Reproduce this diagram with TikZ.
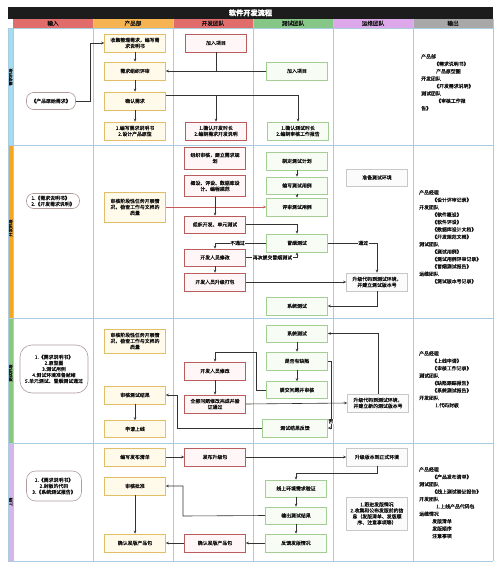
\documentclass[tikz,border=0pt]{standalone}
\usepackage{fontspec}
\setmainfont{Noto Sans CJK SC}[FakeBold=0.35]
\usetikzlibrary{arrows.meta,calc}
\definecolor{titleC}{HTML}{1C1C1C}
\definecolor{hRed}{HTML}{E06C6C}
\definecolor{hOrange}{HTML}{F6B352}
\definecolor{hGreen}{HTML}{86C787}
\definecolor{hViolet}{HTML}{DDA8EA}
\definecolor{hGray}{HTML}{A8A8A8}
\definecolor{sBlue}{HTML}{A6DCEF}
\definecolor{sOrange}{HTML}{F5A623}
\definecolor{sGreen}{HTML}{8BC97A}
\definecolor{sViolet}{HTML}{D7B5E8}
\definecolor{gridC}{HTML}{A9CCE3}
\definecolor{prodD}{HTML}{E3BE6A}
\definecolor{prodF}{HTML}{FFFAEA}
\definecolor{devD}{HTML}{B85C5C}
\definecolor{devF}{HTML}{FFF7F7}
\definecolor{testD}{HTML}{A3CF95}
\definecolor{testF}{HTML}{F7FCF5}
\definecolor{opsD}{HTML}{C8C8C8}
\definecolor{opsF}{HTML}{FBFBFB}
\definecolor{inpD}{HTML}{B09A9A}
\definecolor{lineC}{HTML}{333333}
\definecolor{redLine}{HTML}{C55A5A}
\definecolor{txtC}{HTML}{111111}
\newcommand\boxfont{\fontsize{4.9}{6}\selectfont}
\newcommand\outfont{\fontsize{4.9}{7.4}\selectfont}
\newcommand\headfont{\fontsize{5.6}{6}\selectfont}
\newcommand\titlefont{\fontsize{7.2}{8}\selectfont\bfseries}
\newcommand\stripfont{\fontsize{4.3}{5}\selectfont}
\newcommand\ind{\hspace*{13pt}}
\begin{document}
\begin{tikzpicture}[x=1pt,y=-1pt,
  bx/.style={draw, minimum width=61pt, minimum height=18pt, inner sep=0.5pt, align=center, font=\boxfont, text=txtC, line width=0.6pt},
  prod/.style={bx, draw=prodD, fill=prodF},
  dev/.style={bx, draw=devD, fill=devF},
  tst/.style={bx, draw=testD, fill=testF},
  ops/.style={bx, draw=opsD, fill=opsF},
  inp/.style={draw=inpD, fill=white, rounded corners=7pt, align=center, font=\boxfont, text=txtC, inner sep=1pt, line width=0.6pt},
  arr/.style={draw=lineC, line width=0.6pt, -{Stealth[length=3pt,width=2.6pt]}},
  ln/.style={draw=lineC, line width=0.6pt},
  lbl/.style={font=\boxfont, fill=white, inner sep=0.5pt, text=txtC},
  outtxt/.style={font=\outfont, align=left, text=txtC, inner sep=0pt, anchor=north west},
  hd/.style={font=\headfont, text=txtC},
  strip/.style={rotate=90, font=\stripfont, text=txtC}
]
\useasboundingbox (0,0) rectangle (500,563);
% title and header
\fill[titleC] (8,7) rectangle (493,18.5);
\node[font=\titlefont, text=white] (title) at (250.5,12.8) {软件开发流程};
\fill[hRed] (13,18.5) rectangle (93,28);
\fill[hOrange] (93,18.5) rectangle (173,28);
\fill[hRed] (173,18.5) rectangle (253,28);
\fill[hGreen] (253,18.5) rectangle (333,28);
\fill[hViolet] (333,18.5) rectangle (413,28);
\fill[hGray] (413,18.5) rectangle (493,28);
\node[hd] (h1) at (53,23.3) {输入};
\node[hd] (h2) at (133,23.3) {产品部};
\node[hd] (h3) at (213,23.3) {开发团队};
\node[hd] (h4) at (293,23.3) {测试团队};
\node[hd] (h5) at (373,23.3) {运维团队};
\node[hd] (h6) at (453,23.3) {输出};
% strips
\fill[sBlue] (8,28) rectangle (13,145);
\fill[sOrange] (8,145) rectangle (13,318);
\fill[sGreen] (8,318) rectangle (13,443);
\fill[sViolet] (8,443) rectangle (13,561);
\node[strip] (s1) at (10.5,77) {需求阶段};
\node[strip] (s2) at (10.5,228) {开发阶段};
\node[strip] (s3) at (10.5,373) {测试阶段};
\node[strip] (s4) at (10.5,502) {上线};
% grid
\foreach \x in {93,173,253,333,413}{\draw[gridC, line width=0.6pt] (\x,18.5) -- (\x,561);}
\draw[gridC, line width=0.6pt] (13,28) -- (13,561);
\draw[gridC, line width=0.6pt] (493,18.5) -- (493,561);
\foreach \y in {28,145,318,443,561}{\draw[gridC, line width=0.6pt] (8,\y) -- (493,\y);}
\draw[gridC, line width=0.6pt] (8,28) -- (8,561);

% ---------- phase 1
\node[inp, minimum width=49pt, minimum height=17pt] (in1) at (51,101) {《产品原始需求》};
\node[prod] (p1a) at (135,43) {收集整理需求，编写需\\求说明书};
\node[prod] (p1b) at (135,71) {需求组织评审};
\node[prod] (p1c) at (135,101) {确认需求};
\node[prod] (p1d) at (135,131) {1.编写需求说明书\\2.设计产品原型};
\node[dev] (d1a) at (216,43) {加入项目};
\node[dev] (d1b) at (216,131) {1.确认开发时长\\2.编制需求开发说明};
\node[tst] (t1a) at (297,71) {加入项目};
\node[tst] (t1b) at (298,131) {1.确认测试时长\\2.编制审核工作报告};
\node[outtxt] (o1) at (421,54) {产品部\\\ind《需求说明书》\\\ind\hspace*{2pt}产品原型图\\开发团队\\\ind《开发需求说明》\\测试团队\\\ind\hspace*{2pt}《审核工作报\\告》};
\coordinate (j1) at (298,95);
\draw[arr] (in1.east) -- ++(14,0) |- (p1a.west);
\draw[arr] (p1a) -- (p1b);
\draw[arr] (t1a.west) -- (p1b.east);
\draw[ln] (d1a.south) -- (d1a.south |- p1b.east);
\draw[arr] (p1b) -- (p1c);
\draw[arr] (p1c.east |- j1) -- (j1) -- (t1b.north);
\draw[arr] (d1b.north |- j1) -- (d1b.north);
\draw[arr] (p1c) -- (p1d);

% ---------- phase 2
\node[inp, minimum width=53pt, minimum height=15pt, align=left] (in2) at (53,201) {1.《需求说明书》\\2.《开发需求说明》};
\node[prod, minimum height=30pt] (p2a) at (135,207) {审核阶段性任务开展情\\况，检查工作与文档的\\质量};
\node[dev, minimum height=22pt] (d2a) at (215,158) {组织审核，建立需求规\\划};
\node[dev, minimum height=21pt] (d2b) at (215,186) {概设、评设、数据库设\\计、编程规范};
\node[dev, minimum height=17pt] (d2c) at (215,224.5) {组织开发、单元测试};
\node[dev, minimum height=17pt] (d2d) at (215,257.5) {开发人员修改};
\node[dev] (d2e) at (215,282) {开发人员升级打包};
\node[tst] (t2a) at (297,161) {制定测试计划};
\node[tst, minimum height=17pt] (t2b) at (297,185.5) {编写测试用例};
\node[tst] (t2c) at (297,207) {评审测试用例};
\node[tst] (t2d) at (297,243) {冒烟测试};
\node[tst] (t2e) at (297,306) {系统测试};
\node[ops, minimum height=17pt] (o2a) at (377,177.5) {准备测试环境};
\node[ops] (o2b) at (377,282) {升级代码到测试环境，\\并建立测试版本号};
\node[outtxt] (o2) at (419,190) {产品经理\\\ind《设计评审记录》\\开发团队\\\ind《软件概设》\\\ind《软件评设》\\\ind《数据库设计文档》\\\ind《开发规范文档》\\测试团队\\\ind《测试用例》\\\ind《测试用例评审记录》\\\ind《冒烟测试报告》\\运维团队\\\ind《测试版本号记录》};
\draw[arr, draw=redLine] (p2a.east) -- (t2c.west);
\draw[arr] (d2b) -- (d2c);
\draw[arr] (t2a) -- (t2b);
\draw[arr] (t2b) -- (t2c);
\draw[arr] (d2c.east) -| (t2d.north);
\draw[arr] (t2d.west) -| node[lbl, pos=0.28] (nopass) {不通过} (d2d.north);
\draw[arr] (d2d.east) -| node[lbl, pos=0.26] (resub) {再次提交冒烟测试} (t2d.south);
\draw[arr] (d2d) -- (d2e);
\draw[arr] (t2d.east) -| node[lbl, pos=0.36] (pass) {通过} (o2b.north);
\draw[arr] (d2e.east) -- (o2b.west);
\draw[arr] (o2b.south) |- (t2e.east);

% ---------- phase 3
\node[inp, minimum width=68pt, minimum height=48pt, rounded corners=12pt] (in3) at (54,369) {1.《需求说明书》\\2.原型图\\3.测试用例\\4.测试环境准备就绪\\5.单元测试、冒烟测试通过};
\node[prod, minimum height=24pt] (p3a) at (135,341) {审核阶段性任务开展情\\况，检查工作与文档的\\质量};
\node[prod] (p3b) at (135,395) {审核测试结果};
\node[prod, minimum height=17pt] (p3c) at (135,429) {申请上线};
\node[dev] (d3a) at (215,371) {开发人员修改};
\node[dev] (d3b) at (215,404) {全部问题修改完成并验\\证通过};
\node[tst, minimum height=17pt] (t3a) at (297,333.5) {系统测试};
\node[tst] (t3b) at (297,361) {是否有缺陷};
\node[tst, minimum height=17pt] (t3c) at (297,390) {提交问题并审核};
\node[tst, minimum width=65pt] (t3d) at (295,428) {测试结果反馈};
\node[ops, align=left] (o3a) at (378,403) {升级代码到测试环境，\\并建立新的测试版本号};
\node[outtxt] (o3) at (419,351) {产品经理\\\ind《上线申请》\\\ind《审核工作记录》\\测试团队\\\ind《缺陷跟踪报告》\\\ind《系统测试报告》\\开发团队\\\ind\hspace*{3pt}1.代码封板};
\coordinate (j3a) at (256,352);
\coordinate (j3b) at (177,428);
\draw[arr] (t3a) -- (t3b);
\draw[arr] (t3b) -- (t3c);
\draw[arr] (t3c.west) -| (j3a) -| (d3a.north);
\draw[arr] (t3b.east) -- ++(3,0) |- node[lbl, pos=0.45] (no) {否} (t3d.east);
\draw[arr] (t3d.west) -- (j3b) |- (p3b.east);
\draw[arr] (d3a) -- (d3b);
\draw[arr] (d3b.east) -- (o3a.west);
\draw[arr] (o3a.north) |- (t3a.east);
\draw[arr] (p3b) -- (p3c);

% ---------- phase 4
\node[inp, minimum width=55pt, minimum height=30pt, rounded corners=9pt] (in4) at (54,486) {1.《需求说明书》\\2.封板的代码\\3.《系统测试报告》};
\node[prod] (p4a) at (135,457) {编写发布清单};
\node[prod] (p4b) at (135,486) {审核批准};
\node[prod] (p4c) at (135,543) {确认发版产品包};
\node[dev] (d4a) at (215,457) {发布升级包};
\node[dev] (d4b) at (215,543) {确认发版产品包};
\node[tst, minimum height=17pt] (t4a) at (296,488.5) {线上环境需求验证};
\node[tst, minimum height=17pt] (t4b) at (296,515.5) {输出测试结果};
\node[tst] (t4c) at (296,543) {反馈发版情况};
\node[ops] (o4a) at (377,457) {升级版本到正式环境};
\node[ops, minimum height=33pt] (o4b) at (377,513.5) {1.跟进发版情况\\2.收集和公布发版前的信\\息（发版清单、发版顺\\序、注意事项等）};
\node[outtxt] (o4) at (419,467) {产品经理\\\ind《产品发布清单》\\测试团队\\\ind《线上测试验证报告》\\开发团队\\\ind\hspace*{4pt}1.上线产品代码包\\运维情况\\\ind 发版清单\\\ind 发版顺序\\\ind 注意事项};
\coordinate (j4) at (183,516);
\draw[arr] (p4a) -- (d4a);
\draw[arr] (d4a) -- (o4a);
\draw[arr] (o4a.south) -- ++(0,7) -| (t4a.north);
\draw[arr] (t4a) -- (t4b);
\draw[arr] (t4b) -- (t4c);
\draw[arr] (t4b.west) -- (j4) |- (p4b.east);
\draw[arr] (t4c) -- (d4b);
\draw[arr] (d4b) -- (p4c);
\draw[arr] (p4b) -- (p4c);
\end{tikzpicture}
\end{document}
